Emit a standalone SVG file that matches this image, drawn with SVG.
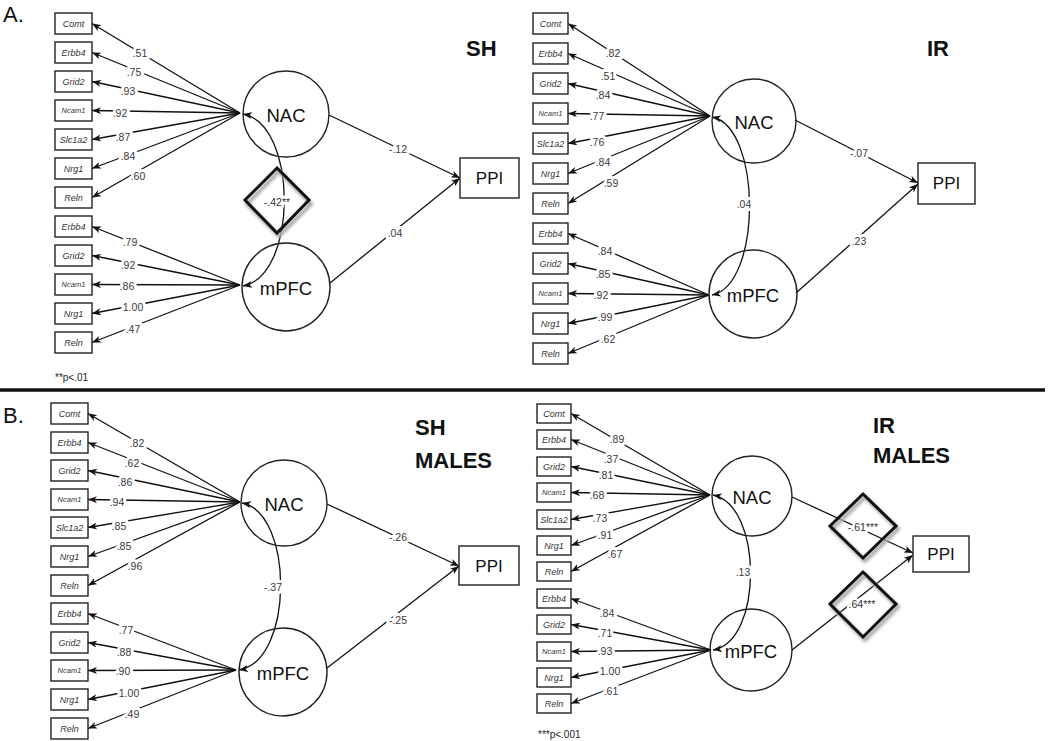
<svg xmlns="http://www.w3.org/2000/svg" width="1050" height="741" viewBox="0 0 1050 741">
<style>
.bx{fill:#fff;stroke:#222;stroke-width:1.4}
.bt{font-family:'Liberation Sans',Arial,sans-serif;font-style:italic;font-size:9px;fill:#333;text-anchor:middle;dominant-baseline:central}
.sm{font-size:7.5px}
.ln{fill:none;stroke:#111;stroke-width:1.3}
.pl{font-family:'Liberation Sans',Arial,sans-serif;font-size:10.5px;fill:#3a3a3a;stroke:#fff;stroke-width:6;stroke-linejoin:round;paint-order:stroke;text-anchor:middle;dominant-baseline:central}
.cc{fill:none;stroke:#222;stroke-width:1.4}
.ct{font-family:'Liberation Sans',Arial,sans-serif;font-size:18.5px;fill:#111;text-anchor:middle;dominant-baseline:central}
.pp{fill:#fff;stroke:#222;stroke-width:1.4}
.pt{font-family:'Liberation Sans',Arial,sans-serif;font-size:17px;fill:#111;text-anchor:middle;dominant-baseline:central}
.ti{font-family:'Liberation Sans',Arial,sans-serif;font-size:22px;font-weight:bold;fill:#111}
.pn{font-family:'Liberation Sans',Arial,sans-serif;font-size:22px;fill:#111}
.fn{font-family:'Liberation Sans',Arial,sans-serif;font-size:10px;fill:#222}
.dm{fill:none;stroke:#111;stroke-width:3}
.ds{fill:none;stroke:#aaa;stroke-width:4}
.dt{font-family:'Liberation Sans',Arial,sans-serif;font-size:10.5px;fill:#333;stroke:#fff;stroke-width:5;stroke-linejoin:round;paint-order:stroke;text-anchor:middle;dominant-baseline:central}
</style>
<defs>
<marker id="ar" markerUnits="userSpaceOnUse" markerWidth="9" markerHeight="7" refX="9" refY="3.5" orient="auto-start-reverse">
<path d="M0,0 L9,3.5 L0,7 L2.5,3.5 z" fill="#111"/>
</marker>
<filter id="bl" x="-20%" y="-20%" width="140%" height="140%"><feGaussianBlur stdDeviation="1.5"/></filter>
</defs>
<rect width="1050" height="741" fill="#fff"/>

<text class="pn" x="3" y="22">A.</text>
<text class="pn" x="3" y="423">B.</text>
<g id="divider">
<line x1="0" y1="393.5" x2="1045" y2="393.5" stroke="#bbb" stroke-width="4" filter="url(#bl)"/>
<line x1="0" y1="390" x2="1045" y2="390" stroke="#111" stroke-width="3.5"/>
</g>
<text class="ti" x="466" y="56">SH</text>
<text class="ti" x="927" y="56">IR</text>
<text class="ti" x="415" y="435">SH</text>
<text class="ti" x="415" y="468">MALES</text>
<text class="ti" x="873" y="433">IR</text>
<text class="ti" x="873" y="463">MALES</text>
<text class="fn" x="55" y="381">**p&lt;.01</text>
<text class="fn" x="538" y="738">***p&lt;.001</text>

<g id="connectors">
<!-- A SH -->
<path class="ln" marker-end="url(#ar)" d="M240,113 L92,23.5"/>
<path class="ln" marker-end="url(#ar)" d="M240,113 L92,52.5"/>
<path class="ln" marker-end="url(#ar)" d="M240,113 L92,81.5"/>
<path class="ln" marker-end="url(#ar)" d="M240,113 L92,110.5"/>
<path class="ln" marker-end="url(#ar)" d="M240,113 L92,139.5"/>
<path class="ln" marker-end="url(#ar)" d="M240,113 L92,168.5"/>
<path class="ln" marker-end="url(#ar)" d="M240,113 L92,197.5"/>
<path class="ln" marker-end="url(#ar)" d="M240,285 L92,226.5"/>
<path class="ln" marker-end="url(#ar)" d="M240,285 L92,255.5"/>
<path class="ln" marker-end="url(#ar)" d="M240,285 L92,284.5"/>
<path class="ln" marker-end="url(#ar)" d="M240,285 L92,313.5"/>
<path class="ln" marker-end="url(#ar)" d="M240,285 L92,342.5"/>
<path class="ln" marker-end="url(#ar)" d="M329,115 L460,178"/>
<path class="ln" marker-end="url(#ar)" d="M330,283 L460,178"/>
<path class="ln" marker-start="url(#ar)" marker-end="url(#ar)" d="M243,114 C298,124 298,276 243,286"/>
<!-- A IR -->
<path class="ln" marker-end="url(#ar)" d="M710,116 L568,23.5"/>
<path class="ln" marker-end="url(#ar)" d="M710,116 L568,53.5"/>
<path class="ln" marker-end="url(#ar)" d="M710,116 L568,83.5"/>
<path class="ln" marker-end="url(#ar)" d="M710,116 L568,113.5"/>
<path class="ln" marker-end="url(#ar)" d="M710,116 L568,143.5"/>
<path class="ln" marker-end="url(#ar)" d="M710,116 L568,173.5"/>
<path class="ln" marker-end="url(#ar)" d="M710,116 L568,203.5"/>
<path class="ln" marker-end="url(#ar)" d="M709,295 L568,233.5"/>
<path class="ln" marker-end="url(#ar)" d="M709,295 L568,263.5"/>
<path class="ln" marker-end="url(#ar)" d="M709,295 L568,293.5"/>
<path class="ln" marker-end="url(#ar)" d="M709,295 L568,323.5"/>
<path class="ln" marker-end="url(#ar)" d="M709,295 L568,353.5"/>
<path class="ln" marker-end="url(#ar)" d="M795,120 L918,183"/>
<path class="ln" marker-end="url(#ar)" d="M796,293 L918,184"/>
<path class="ln" marker-start="url(#ar)" marker-end="url(#ar)" d="M712,117 C762,127 762,285 712,295"/>
<!-- B SH -->
<path class="ln" marker-end="url(#ar)" d="M240,502 L88,413.5"/>
<path class="ln" marker-end="url(#ar)" d="M240,502 L88,442.5"/>
<path class="ln" marker-end="url(#ar)" d="M240,502 L88,470.5"/>
<path class="ln" marker-end="url(#ar)" d="M240,502 L88,499.5"/>
<path class="ln" marker-end="url(#ar)" d="M240,502 L88,527.5"/>
<path class="ln" marker-end="url(#ar)" d="M240,502 L88,556.5"/>
<path class="ln" marker-end="url(#ar)" d="M240,502 L88,585.5"/>
<path class="ln" marker-end="url(#ar)" d="M236,670 L88,613.5"/>
<path class="ln" marker-end="url(#ar)" d="M236,670 L88,642.5"/>
<path class="ln" marker-end="url(#ar)" d="M236,670 L88,670.5"/>
<path class="ln" marker-end="url(#ar)" d="M236,670 L88,699.5"/>
<path class="ln" marker-end="url(#ar)" d="M236,670 L88,728.5"/>
<path class="ln" marker-end="url(#ar)" d="M327,504 L459,566"/>
<path class="ln" marker-end="url(#ar)" d="M327,668 L459,566"/>
<path class="ln" marker-start="url(#ar)" marker-end="url(#ar)" d="M242,503 C294,513 294,661 239,670"/>
<!-- B IR -->
<path class="ln" marker-end="url(#ar)" d="M710,495 L571,413.5"/>
<path class="ln" marker-end="url(#ar)" d="M710,495 L571,439.5"/>
<path class="ln" marker-end="url(#ar)" d="M710,495 L571,466.5"/>
<path class="ln" marker-end="url(#ar)" d="M710,495 L571,492.5"/>
<path class="ln" marker-end="url(#ar)" d="M710,495 L571,519.5"/>
<path class="ln" marker-end="url(#ar)" d="M710,495 L571,545.5"/>
<path class="ln" marker-end="url(#ar)" d="M710,495 L571,571.5"/>
<path class="ln" marker-end="url(#ar)" d="M711,650 L571,598.5"/>
<path class="ln" marker-end="url(#ar)" d="M711,650 L571,624.5"/>
<path class="ln" marker-end="url(#ar)" d="M711,650 L571,651.5"/>
<path class="ln" marker-end="url(#ar)" d="M711,650 L571,677.5"/>
<path class="ln" marker-end="url(#ar)" d="M711,650 L571,703.5"/>
<path class="ln" marker-end="url(#ar)" d="M792,497 L913,553"/>
<path class="ln" marker-end="url(#ar)" d="M792,650 L913,555"/>
<path class="ln" marker-start="url(#ar)" marker-end="url(#ar)" d="M713,495 C763,505 763,642 713,650"/>

<text class="pl" x="140" y="53">.51</text>
<text class="pl" x="134" y="72">.75</text>
<text class="pl" x="128" y="91">.93</text>
<text class="pl" x="120" y="113">.92</text>
<text class="pl" x="123" y="137">.87</text>
<text class="pl" x="128" y="156">.84</text>
<text class="pl" x="138" y="176">.60</text>
<text class="pl" x="130" y="242">.79</text>
<text class="pl" x="128" y="265">.92</text>
<text class="pl" x="127" y="286">.86</text>
<text class="pl" x="133" y="307">1.00</text>
<text class="pl" x="133" y="329">.47</text>
<text class="pl" x="398" y="149">-.12</text>
<text class="pl" x="395" y="233">.04</text>

<text class="pl" x="613" y="53">.82</text>
<text class="pl" x="608" y="76">.51</text>
<text class="pl" x="603" y="95">.84</text>
<text class="pl" x="597" y="116">.77</text>
<text class="pl" x="597" y="142">.76</text>
<text class="pl" x="603" y="162">.84</text>
<text class="pl" x="611" y="183">.59</text>
<text class="pl" x="605" y="251">.84</text>
<text class="pl" x="603" y="274">.85</text>
<text class="pl" x="601" y="295">.92</text>
<text class="pl" x="605" y="317">.99</text>
<text class="pl" x="608" y="339">.62</text>
<text class="pl" x="859" y="153">-.07</text>
<text class="pl" x="859" y="241">.23</text>
<text class="pl" x="744" y="204">.04</text>

<text class="pl" x="137" y="443">.82</text>
<text class="pl" x="132" y="463">.62</text>
<text class="pl" x="125" y="482">.86</text>
<text class="pl" x="117" y="502">.94</text>
<text class="pl" x="119" y="526">.85</text>
<text class="pl" x="124" y="546">.85</text>
<text class="pl" x="135" y="566">.96</text>
<text class="pl" x="126" y="630">.77</text>
<text class="pl" x="124" y="652">.88</text>
<text class="pl" x="123" y="671">.90</text>
<text class="pl" x="129" y="693">1.00</text>
<text class="pl" x="132" y="714">.49</text>
<text class="pl" x="398" y="537">-.26</text>
<text class="pl" x="398" y="620">-.25</text>
<text class="pl" x="273" y="587">-.37</text>

<text class="pl" x="617" y="439">.89</text>
<text class="pl" x="611" y="459">.37</text>
<text class="pl" x="606" y="475">.81</text>
<text class="pl" x="597" y="495">.68</text>
<text class="pl" x="600" y="518">.73</text>
<text class="pl" x="605" y="535">.91</text>
<text class="pl" x="615" y="554">.67</text>
<text class="pl" x="607" y="613">.84</text>
<text class="pl" x="605" y="633">.71</text>
<text class="pl" x="605" y="651">.93</text>
<text class="pl" x="610" y="671">1.00</text>
<text class="pl" x="611" y="691">.61</text>
<text class="pl" x="743" y="572">.13</text>
</g>

<g id="a-sh-nac"><circle class="cc" cx="286" cy="114" r="43"/><text class="ct" x="286" y="115">NAC</text></g>
<g id="a-sh-mpfc"><circle class="cc" cx="286" cy="287" r="44"/><text class="ct" x="286" y="288">mPFC</text></g>
<g id="a-sh-ppi"><rect class="pp" x="460" y="158" width="59" height="40"/><text class="pt" x="489.5" y="178">PPI</text></g>
<g id="a-sh-corr">
<polygon class="ds" points="279,171 311,204 279,236 247,204" filter="url(#bl)"/>
<polygon class="dm" points="277,168 309,200 277,233 245,200"/>
<text class="dt" x="277" y="202">-.42**</text>
</g>
<g id="a-sh-ind">
<g id="a-sh-i1"><rect class="bx" x="55" y="13" width="37" height="21"/><text class="bt" x="73.5" y="23.5">Comt</text></g>
<g id="a-sh-i2"><rect class="bx" x="55" y="42" width="37" height="21"/><text class="bt" x="73.5" y="52.5">Erbb4</text></g>
<g id="a-sh-i3"><rect class="bx" x="55" y="71" width="37" height="21"/><text class="bt" x="73.5" y="81.5">Grid2</text></g>
<g id="a-sh-i4"><rect class="bx" x="55" y="100" width="37" height="21"/><text class="bt sm" x="73.5" y="110.5">Ncam1</text></g>
<g id="a-sh-i5"><rect class="bx" x="55" y="129" width="37" height="21"/><text class="bt" x="73.5" y="139.5">Slc1a2</text></g>
<g id="a-sh-i6"><rect class="bx" x="55" y="158" width="37" height="21"/><text class="bt" x="73.5" y="168.5">Nrg1</text></g>
<g id="a-sh-i7"><rect class="bx" x="55" y="187" width="37" height="21"/><text class="bt" x="73.5" y="197.5">Reln</text></g>
<g id="a-sh-i8"><rect class="bx" x="55" y="216" width="37" height="21"/><text class="bt" x="73.5" y="226.5">Erbb4</text></g>
<g id="a-sh-i9"><rect class="bx" x="55" y="245" width="37" height="21"/><text class="bt" x="73.5" y="255.5">Grid2</text></g>
<g id="a-sh-i10"><rect class="bx" x="55" y="274" width="37" height="21"/><text class="bt sm" x="73.5" y="284.5">Ncam1</text></g>
<g id="a-sh-i11"><rect class="bx" x="55" y="303" width="37" height="21"/><text class="bt" x="73.5" y="313.5">Nrg1</text></g>
<g id="a-sh-i12"><rect class="bx" x="55" y="332" width="37" height="21"/><text class="bt" x="73.5" y="342.5">Reln</text></g>
</g>

<g id="a-ir-nac"><circle class="cc" cx="754" cy="121" r="42"/><text class="ct" x="754" y="122">NAC</text></g>
<g id="a-ir-mpfc"><circle class="cc" cx="753" cy="294" r="44"/><text class="ct" x="753" y="295">mPFC</text></g>
<g id="a-ir-ppi"><rect class="pp" x="918" y="163" width="57" height="41"/><text class="pt" x="946.5" y="183.5">PPI</text></g>
<g id="a-ir-ind">
<g id="a-ir-i1"><rect class="bx" x="533" y="13" width="35" height="21"/><text class="bt" x="550.5" y="23.5">Comt</text></g>
<g id="a-ir-i2"><rect class="bx" x="533" y="43" width="35" height="21"/><text class="bt" x="550.5" y="53.5">Erbb4</text></g>
<g id="a-ir-i3"><rect class="bx" x="533" y="73" width="35" height="21"/><text class="bt" x="550.5" y="83.5">Grid2</text></g>
<g id="a-ir-i4"><rect class="bx" x="533" y="103" width="35" height="21"/><text class="bt sm" x="550.5" y="113.5">Ncam1</text></g>
<g id="a-ir-i5"><rect class="bx" x="533" y="133" width="35" height="21"/><text class="bt" x="550.5" y="143.5">Slc1a2</text></g>
<g id="a-ir-i6"><rect class="bx" x="533" y="163" width="35" height="21"/><text class="bt" x="550.5" y="173.5">Nrg1</text></g>
<g id="a-ir-i7"><rect class="bx" x="533" y="193" width="35" height="21"/><text class="bt" x="550.5" y="203.5">Reln</text></g>
<g id="a-ir-i8"><rect class="bx" x="533" y="223" width="35" height="21"/><text class="bt" x="550.5" y="233.5">Erbb4</text></g>
<g id="a-ir-i9"><rect class="bx" x="533" y="253" width="35" height="21"/><text class="bt" x="550.5" y="263.5">Grid2</text></g>
<g id="a-ir-i10"><rect class="bx" x="533" y="283" width="35" height="21"/><text class="bt sm" x="550.5" y="293.5">Ncam1</text></g>
<g id="a-ir-i11"><rect class="bx" x="533" y="313" width="35" height="21"/><text class="bt" x="550.5" y="323.5">Nrg1</text></g>
<g id="a-ir-i12"><rect class="bx" x="533" y="343" width="35" height="21"/><text class="bt" x="550.5" y="353.5">Reln</text></g>
</g>

<g id="b-sh-nac"><circle class="cc" cx="284" cy="503" r="43"/><text class="ct" x="284" y="504">NAC</text></g>
<g id="b-sh-mpfc"><circle class="cc" cx="283" cy="672" r="44"/><text class="ct" x="283" y="673">mPFC</text></g>
<g id="b-sh-ppi"><rect class="pp" x="459" y="546" width="60" height="39"/><text class="pt" x="489" y="566">PPI</text></g>
<g id="b-sh-ind">
<g id="b-sh-i1"><rect class="bx" x="51" y="403" width="37" height="21"/><text class="bt" x="69.5" y="413.5">Comt</text></g>
<g id="b-sh-i2"><rect class="bx" x="51" y="432" width="37" height="21"/><text class="bt" x="69.5" y="442.5">Erbb4</text></g>
<g id="b-sh-i3"><rect class="bx" x="51" y="460" width="37" height="21"/><text class="bt" x="69.5" y="470.5">Grid2</text></g>
<g id="b-sh-i4"><rect class="bx" x="51" y="489" width="37" height="21"/><text class="bt sm" x="69.5" y="499.5">Ncam1</text></g>
<g id="b-sh-i5"><rect class="bx" x="51" y="517" width="37" height="21"/><text class="bt" x="69.5" y="527.5">Slc1a2</text></g>
<g id="b-sh-i6"><rect class="bx" x="51" y="546" width="37" height="21"/><text class="bt" x="69.5" y="556.5">Nrg1</text></g>
<g id="b-sh-i7"><rect class="bx" x="51" y="575" width="37" height="21"/><text class="bt" x="69.5" y="585.5">Reln</text></g>
<g id="b-sh-i8"><rect class="bx" x="51" y="603" width="37" height="21"/><text class="bt" x="69.5" y="613.5">Erbb4</text></g>
<g id="b-sh-i9"><rect class="bx" x="51" y="632" width="37" height="21"/><text class="bt" x="69.5" y="642.5">Grid2</text></g>
<g id="b-sh-i10"><rect class="bx" x="51" y="660" width="37" height="21"/><text class="bt sm" x="69.5" y="670.5">Ncam1</text></g>
<g id="b-sh-i11"><rect class="bx" x="51" y="689" width="37" height="21"/><text class="bt" x="69.5" y="699.5">Nrg1</text></g>
<g id="b-sh-i12"><rect class="bx" x="51" y="718" width="37" height="21"/><text class="bt" x="69.5" y="728.5">Reln</text></g>
</g>

<g id="b-ir-nac"><circle class="cc" cx="752" cy="496" r="40"/><text class="ct" x="752" y="497">NAC</text></g>
<g id="b-ir-mpfc"><circle class="cc" cx="751" cy="650" r="41"/><text class="ct" x="751" y="651">mPFC</text></g>
<g id="b-ir-ppi"><rect class="pp" x="913" y="536" width="56" height="36"/><text class="pt" x="941" y="554">PPI</text></g>
<g id="b-ir-p1">
<polygon class="ds" points="865,497 898,529 865,561 832,529" filter="url(#bl)"/>
<polygon class="dm" points="863,494 896,526 863,558 830,526"/>
<text class="dt" x="863" y="527">-.61***</text>
</g>
<g id="b-ir-p2">
<polygon class="ds" points="865,575 898,607 865,640 832,607" filter="url(#bl)"/>
<polygon class="dm" points="863,572 896,604 863,637 830,604"/>
<text class="dt" x="862" y="604">.64***</text>
</g>
<g id="b-ir-ind">
<g id="b-ir-i1"><rect class="bx" x="537" y="404" width="34" height="19"/><text class="bt" x="554" y="413.5">Comt</text></g>
<g id="b-ir-i2"><rect class="bx" x="537" y="430" width="34" height="19"/><text class="bt" x="554" y="439.5">Erbb4</text></g>
<g id="b-ir-i3"><rect class="bx" x="537" y="457" width="34" height="19"/><text class="bt" x="554" y="466.5">Grid2</text></g>
<g id="b-ir-i4"><rect class="bx" x="537" y="483" width="34" height="19"/><text class="bt sm" x="554" y="492.5">Ncam1</text></g>
<g id="b-ir-i5"><rect class="bx" x="537" y="510" width="34" height="19"/><text class="bt" x="554" y="519.5">Slc1a2</text></g>
<g id="b-ir-i6"><rect class="bx" x="537" y="536" width="34" height="19"/><text class="bt" x="554" y="545.5">Nrg1</text></g>
<g id="b-ir-i7"><rect class="bx" x="537" y="562" width="34" height="19"/><text class="bt" x="554" y="571.5">Reln</text></g>
<g id="b-ir-i8"><rect class="bx" x="537" y="589" width="34" height="19"/><text class="bt" x="554" y="598.5">Erbb4</text></g>
<g id="b-ir-i9"><rect class="bx" x="537" y="615" width="34" height="19"/><text class="bt" x="554" y="624.5">Grid2</text></g>
<g id="b-ir-i10"><rect class="bx" x="537" y="642" width="34" height="19"/><text class="bt sm" x="554" y="651.5">Ncam1</text></g>
<g id="b-ir-i11"><rect class="bx" x="537" y="668" width="34" height="19"/><text class="bt" x="554" y="677.5">Nrg1</text></g>
<g id="b-ir-i12"><rect class="bx" x="537" y="694" width="34" height="19"/><text class="bt" x="554" y="703.5">Reln</text></g>
</g>
</svg>
